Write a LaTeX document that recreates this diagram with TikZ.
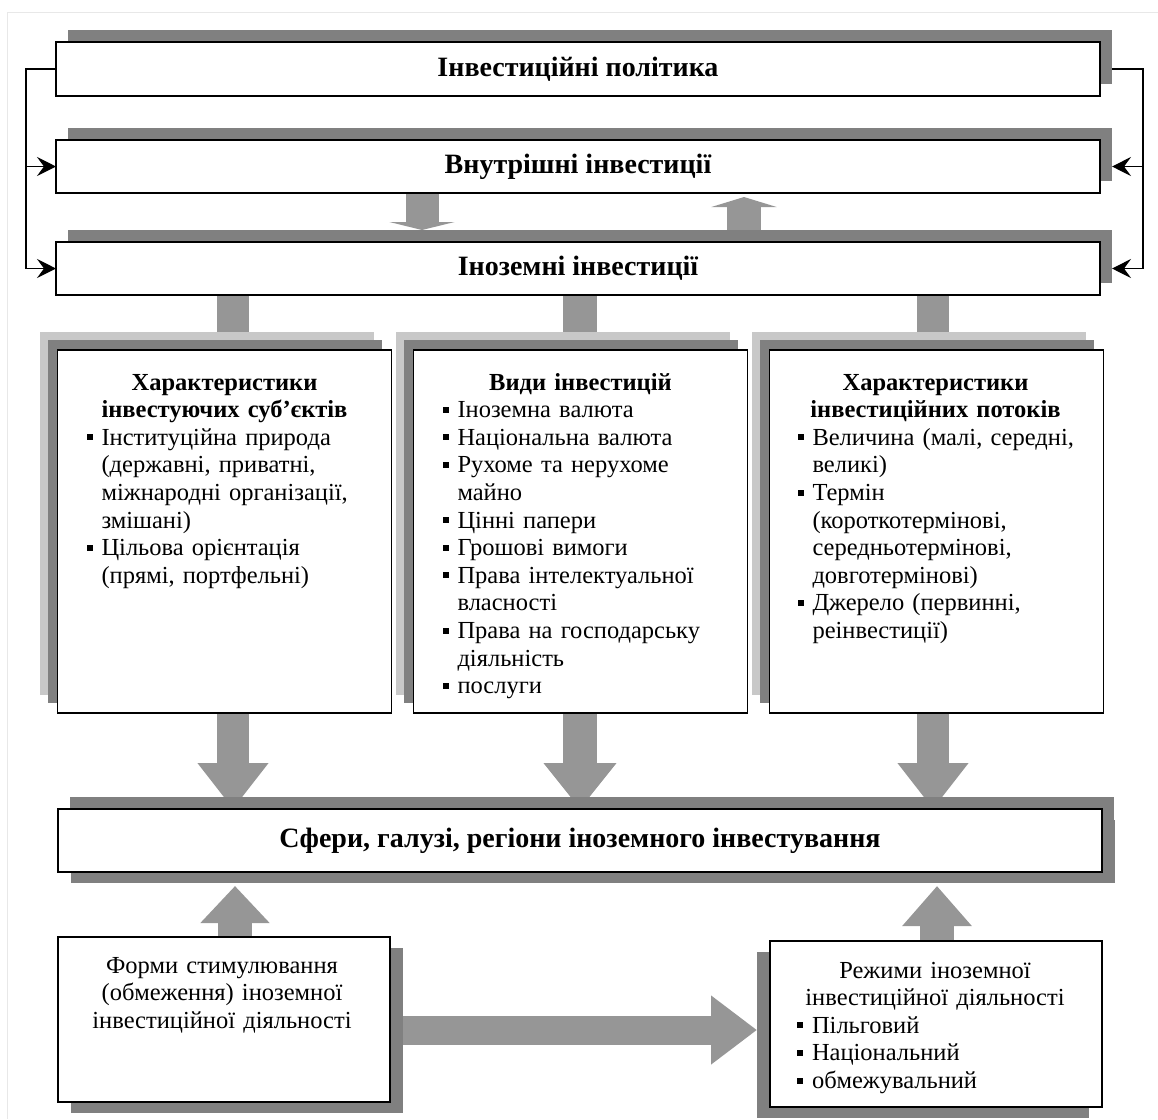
\documentclass[tikz,border=0pt]{standalone}
\usepackage{fontspec}
\setmainfont{Liberation Serif}
\usetikzlibrary{arrows.meta,shadows}
\pgfdeclarelayer{bg}
\pgfsetlayers{bg,main}
\definecolor{shd}{RGB}{128,128,128}
\definecolor{lshd}{RGB}{200,200,200}
\definecolor{blkc}{RGB}{150,150,150}
\definecolor{frm}{RGB}{232,232,232}
\newcommand\bul{\raisebox{0.2em}{\rule{6pt}{6pt}}}
\newcommand\itm[1]{\par\hangindent=15pt\hangafter=1\noindent\makebox[15pt][l]{\bul}#1\par}
\begin{document}
\begin{tikzpicture}[x=1pt,y=-1pt,
  every node/.style={inner sep=0pt,outer sep=0pt},
  bar/.style={draw=black,line width=1.6pt,fill=white,minimum width=1044pt,minimum height=54pt,
    font=\fontsize{28}{32}\selectfont\bfseries,
    general shadow={fill=shd,shadow xshift=12pt,shadow yshift=12pt}},
  kbox/.style={draw=black,line width=1.6pt,fill=white,minimum width=334pt,minimum height=363pt,
    general shadow={fill=lshd,shadow xshift=-18pt,shadow yshift=18pt},
    general shadow={fill=shd,shadow xshift=-10pt,shadow yshift=10pt}},
  lbox/.style={draw=black,line width=1.6pt,fill=white,minimum width=332pt,minimum height=165pt},
  txt/.style={text width=276pt,font=\fontsize{24.5}{27.6}\selectfont,anchor=base west},
  ln/.style={draw=black,line width=1.3pt},
  sarr/.style={ln,-{Stealth[length=19pt,width=19pt,inset=7pt]}},
  barrow/.style n args={3}{draw=blkc,line width=#1,-{Triangle[length=#2,width=#3]}}
]
\useasboundingbox (0,0) rectangle (1158,1119);
\draw[frm,line width=1pt] (7,1119) -- (7,12) -- (1158,12);

% bars
\node[bar] (b1) at (578,69) {Інвестиційні політика};
\node[bar,minimum height=53pt] (b2) at (578,166.5) {Внутрішні інвестиції};
\node[bar,minimum height=53pt] (b3) at (578,268.5) {Іноземні інвестиції};

% three boxes
\node[kbox] (k1) at (224.5,531.5) {};
\node[kbox] (k2) at (580.5,531.5) {};
\node[kbox] (k3) at (936.5,531.5) {};

\node[txt] (t1) at ([xshift=29pt,yshift=-40pt]k1.north west) {%
{\centering\bfseries Характеристики\\ інвестуючих суб’єктів\par}\raggedright
\itm{Інституційна природа\newline (державні, приватні,\newline міжнародні організації,\newline змішані)}
\itm{Цільова орієнтація\newline (прямі, портфельні)}};

\node[txt] (t2) at ([xshift=29pt,yshift=-40pt]k2.north west) {%
{\centering\bfseries Види інвестицій\par}\raggedright
\itm{Іноземна валюта}
\itm{Національна валюта}
\itm{Рухоме та нерухоме\newline майно}
\itm{Цінні папери}
\itm{Грошові вимоги}
\itm{Права інтелектуальної\newline власності}
\itm{Права на господарську\newline діяльність}
\itm{послуги}};

\node[txt,text width=298pt] (t3) at ([xshift=28pt,yshift=-40pt]k3.north west) {%
{\centering\rightskip=22pt plus 1fil\bfseries Характеристики\\ інвестиційних потоків\par}\raggedright
\itm{Величина (малі, середні,\newline великі)}
\itm{Термін\newline (короткотермінові,\newline середньотермінові,\newline довготермінові)}
\itm{Джерело (первинні,\newline реінвестиції)}};

% spheres
\node[bar,minimum height=63pt,general shadow={fill=shd,shadow xshift=13pt,shadow yshift=-11pt}] (sf) at (580,840.5)
  {Сфери, галузі, регіони іноземного інвестування};

% bottom boxes
\node[lbox,general shadow={fill=shd,shadow xshift=13pt,shadow yshift=-11pt}] (fm) at (224,1019.5) {};
\node[lbox,minimum height=166pt,general shadow={fill=shd,shadow xshift=-13pt,shadow yshift=-11pt}] (rz) at (936,1024) {};

\node[txt,text width=310pt,align=center,anchor=base] (tf) at ([xshift=-2pt,yshift=-36pt]fm.north)
  {Форми стимулювання\\ (обмеження) іноземної\\ інвестиційної діяльності};
\node[txt] (tr) at ([xshift=27pt,yshift=-37pt]rz.north west) {%
{\centering Режими іноземної\\ інвестиційної діяльності\par}\raggedright
\itm{Пільговий}
\itm{Національний}
\itm{обмежувальний}};

% side connectors
\coordinate (lc) at (26,0);
\coordinate (rc) at (1143,0);
\draw[ln] (b1.west) -- (lc |- b1.west) -- (lc |- b3.west);
\draw[sarr] (lc |- b2.west) -- (b2.west);
\draw[sarr] (lc |- b3.west) -- (b3.west);
\draw[ln] ([xshift=12pt]b1.east) -- (rc |- b1.east) -- (rc |- b3.east);
\draw[sarr] (rc |- b2.east) -- ([xshift=12pt]b2.east);
\draw[sarr] (rc |- b3.east) -- ([xshift=12pt]b3.east);

% block arrows (behind)
\coordinate (xa) at (422,0);
\coordinate (xb) at (744,0);
\coordinate (x1) at (233,0);
\coordinate (x2) at (580,0);
\coordinate (x3) at (933,0);
\coordinate (x4) at (235,0);
\coordinate (x5) at (937,0);
\coordinate (ya) at (0,1030);
\begin{pgfonlayer}{bg}
\draw[barrow={33pt}{8pt}{65pt}] (xa |- b2.south) -- ([yshift=12pt]xa |- b3.north);
\draw[barrow={34pt}{10pt}{65pt}] ([yshift=12pt]xb |- b3.north) -- ([yshift=-4pt]xb |- b2.south);
\draw[barrow={32pt}{46pt}{68pt}] (x1 |- b3.south) -- (x1 |- sf.north);
\draw[barrow={34pt}{46pt}{70pt}] (x2 |- b3.south) -- (x2 |- sf.north);
\draw[barrow={32pt}{46pt}{68pt}] (x3 |- b3.south) -- (x3 |- sf.north);
\draw[barrow={34pt}{37pt}{67pt}] (x4 |- fm.north) -- ([yshift=-14pt]x4 |- sf.south);
\draw[barrow={34pt}{40pt}{67pt}] (x5 |- rz.north) -- ([yshift=-14pt]x5 |- sf.south);
\draw[barrow={29pt}{46pt}{66pt}] (fm.east |- ya) -- ([xshift=-13pt]rz.west |- ya);
\end{pgfonlayer}
\end{tikzpicture}
\end{document}
